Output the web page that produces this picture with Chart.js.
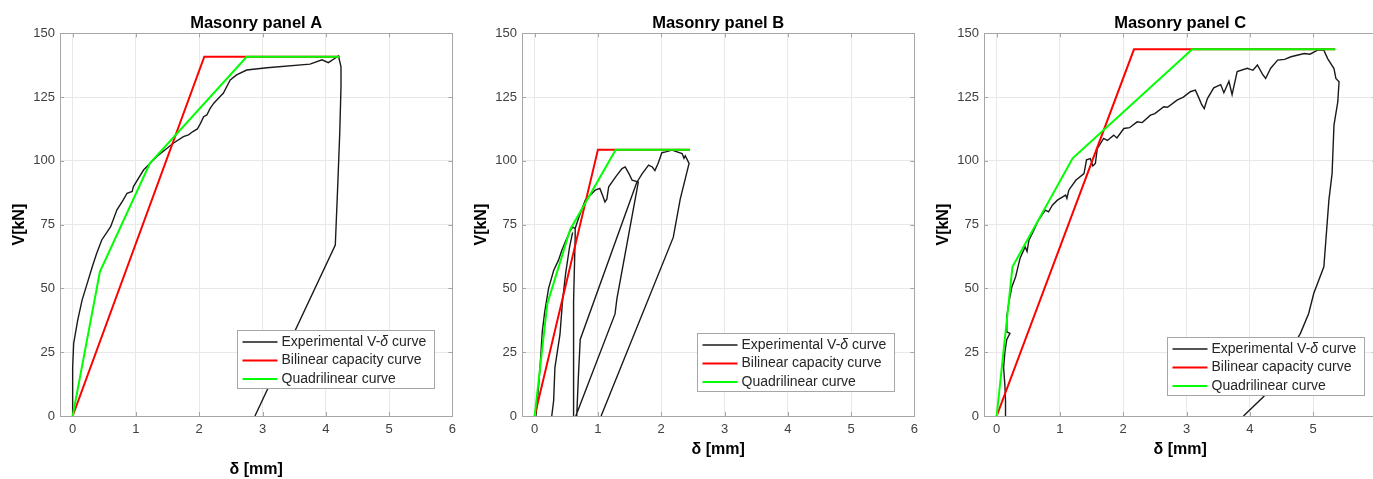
<!DOCTYPE html>
<html>
<head>
<meta charset="utf-8">
<title>Masonry panels V-δ</title>
<script src="https://cdn.jsdelivr.net/npm/chart.js@4.4.1/dist/chart.umd.min.js"></script>
<style>
  html, body { margin: 0; padding: 0; background: #fff; overflow: hidden; }
  #wrap { position: relative; width: 1373px; height: 479px; overflow: hidden; }
  canvas { position: absolute; top: 0; }
</style>
</head>
<body>
<div id="wrap">
  <canvas id="panelA" width="462" height="479" style="left:0px"></canvas>
  <canvas id="panelB" width="462" height="479" style="left:462px"></canvas>
  <canvas id="panelC" width="462" height="479" style="left:924px"></canvas>
</div>
<script>
// axis ticks shared by all three panels
const xTicks = [0, 1, 2, 3, 4, 5, 6];
const yTicks = [0, 25, 50, 75, 100, 125, 150];

const seriesNames = ['Experimental V-δ curve', 'Bilinear capacity curve', 'Quadrilinear curve'];
const panelTitles = ['Masonry panel A', 'Masonry panel B', 'Masonry panel C'];

// ---- Panel A: experimental monotonic curve (delta [mm], V [kN])
const dispA = [0.0, 0.0, 0.0, 0.016, 0.08, 0.15, 0.23, 0.31, 0.38, 0.46, 0.6, 0.7, 0.8, 0.86, 0.94, 0.96,
  1.12, 1.33, 1.59, 1.75, 1.83, 1.9, 1.97, 2.02, 2.07, 2.12, 2.17, 2.23, 2.33, 2.38, 2.49, 2.59, 2.75,
  3.07, 3.75, 3.94, 4.04, 4.17, 4.2, 4.24, 4.24, 4.22, 4.19, 4.15, 2.88];
const loadA = [0, 10, 19, 28.5, 37.6, 45.5, 52, 58.5, 63.8, 69, 74.2, 80.8, 84.7, 87.3, 88, 89.9,
  96.4, 101.7, 106.9, 109.5, 110.2, 111.5, 112.5, 114.7, 117.3, 118, 120.5, 122.6, 125.2, 126.5, 131.7, 133.7, 135.6,
  136.5, 137.9, 139.6, 138.5, 140.6, 141.1, 136.9, 129.1, 110.8, 91.2, 67, 0];
const bilDispA = [0, 2.08, 4.22];
const bilLoadA = [0, 140.8, 140.8];
const quadDispA = [0, 0.43, 1.22, 2.75, 4.22];
const quadLoadA = [0, 56.5, 99, 140.8, 140.8];

// ---- Panel B: cyclic test, reload/unload branches separated by null
const dispB = [0.02, 0.05, 0.085, 0.12, 0.16, 0.2, 0.22, 0.3, 0.375, 0.43, 0.48, 0.56, 0.6, 0.64,
  0.7, 0.8, 0.955, 1.03, 1.08, 1.11, 1.14, 1.17, 1.28, 1.38, 1.43, 1.49, 1.54, 1.62, 1.7, 1.8, 1.86,
  1.9, 1.95, 2.01, 2.07, 2.17, 2.33, 2.36, 2.38, 2.42, 2.44, 2.3, 2.19, 1.05,
  null,
  0.27, 0.3, 0.32, 0.4, 0.44, 0.49, 0.55, 0.6,
  null,
  0.61, 0.61, 0.62, 0.63, 0.64, 0.64,
  null,
  0.665, 0.69, 0.72, 1.62,
  null,
  0.65, 1.27, 1.3, 1.64];
const loadB = [0, 8, 19, 33, 41, 47, 50, 57, 61, 65, 68, 72.5, 74, 73.5,
  78, 84.6, 88.5, 89.2, 86, 83.9, 85, 89.8, 93.7, 97, 97.6, 95, 92.4, 91.8, 95, 98.3, 97.6,
  96.2, 99, 103.2, 103.5, 104.2, 102.9, 101, 102, 100, 99, 85, 70, 0,
  null,
  0, 6, 19, 32, 45, 56, 66, 72,
  null,
  0, 20, 45, 60, 70, 73.5,
  null,
  0, 15, 30, 92,
  null,
  0, 40, 46, 92];
const bilDispB = [0, 1.0, 2.45];
const bilLoadB = [0, 104.4, 104.4];
const quadDispB = [0, 0.2, 0.56, 1.28, 2.45];
const quadLoadB = [0, 44, 73, 104.4, 104.4];

// ---- Panel C: experimental monotonic curve
const dispC = [0.14, 0.14, 0.13, 0.11, 0.13, 0.16, 0.21, 0.16, 0.16, 0.19, 0.24, 0.3, 0.35, 0.37, 0.45, 0.48,
  0.51, 0.59, 0.66, 0.77, 0.82, 0.88, 0.96, 1.09, 1.11, 1.14, 1.25, 1.38, 1.42, 1.48, 1.52, 1.56, 1.59,
  1.69, 1.75, 1.85, 1.9, 2.01, 2.1, 2.22, 2.3, 2.43, 2.5, 2.64, 2.7, 2.85, 2.95, 3.06, 3.14, 3.2, 3.24,
  3.28, 3.33, 3.43, 3.54, 3.59, 3.67, 3.72, 3.8, 3.96, 4.05, 4.12, 4.2, 4.25, 4.33, 4.44, 4.55, 4.65,
  4.86, 4.95, 5.07, 5.17, 5.23, 5.33, 5.36, 5.41, 5.39, 5.33, 5.3, 5.25, 5.17, 5.01, 4.93, 4.8, 4.72,
  4.22, 3.9];
const loadC = [0, 6, 12, 19, 25, 30, 32.4, 33, 39, 44, 50.6, 54.6, 59.8, 61.8, 66.3, 64.5,
  68.9, 72.9, 76.8, 80.7, 80, 82.6, 84.6, 86.6, 85.3, 88.5, 92.4, 95, 100.4, 100.9, 98, 99, 104.8,
  108.8, 108, 110.1, 109, 112.7, 113, 115.3, 115, 117.9, 118.5, 121.2, 121, 123.8, 125, 127.1, 127.7, 124.4, 122,
  120.5, 124.4, 128.6, 129.9, 126.7, 131.2, 126, 135, 136.3, 135.5, 137.6, 134, 132.3, 136.3, 139.5, 139.8, 140.8,
  142.1, 141.8, 143.4, 143.4, 140.1, 136.2, 132.3, 131, 123.1, 114, 95, 84.7, 58.5, 48, 40.2, 32.4, 29,
  7.6, 0];
const bilDispC = [0, 2.17, 5.35];
const bilLoadC = [0, 143.7, 143.7];
const quadDispC = [0, 0.25, 1.2, 3.09, 5.35];
const quadLoadC = [0, 58.5, 101, 143.7, 143.7];

Chart.defaults.font.family = "'Liberation Sans', Arial, Helvetica, sans-serif";
Chart.defaults.color = '#404040';

const BOX_COLOR = '#a6a6a6';
const GRID_COLOR = '#e8e8e8';

// box around the plot area with inward tick marks on every side
const axesBox = {
  id: 'axesBox',
  afterDatasetsDraw(chart) {
    const { ctx, chartArea: a, scales: { x, y } } = chart;
    const len = 4;
    ctx.save();
    ctx.strokeStyle = BOX_COLOR;
    ctx.lineWidth = 1;
    ctx.beginPath();
    x.ticks.forEach(t => {
      const px = Math.round(x.getPixelForValue(t.value)) + 0.5;
      ctx.moveTo(px, a.bottom); ctx.lineTo(px, a.bottom - len);
      ctx.moveTo(px, a.top); ctx.lineTo(px, a.top + len);
    });
    y.ticks.forEach(t => {
      const py = Math.round(y.getPixelForValue(t.value)) + 0.5;
      ctx.moveTo(a.left, py); ctx.lineTo(a.left + len, py);
      ctx.moveTo(a.right, py); ctx.lineTo(a.right - len, py);
    });
    ctx.stroke();
    ctx.strokeRect(Math.round(a.left) + 0.5, Math.round(a.top) + 0.5,
      Math.round(a.right - a.left), Math.round(a.bottom - a.top));
    ctx.restore();
  }
};

// legend box inside the plot area, lower right; δ is set in italic
const boxLegend = {
  id: 'boxLegend',
  afterDraw(chart, args, opts) {
    const { ctx, chartArea: a } = chart;
    const w = 197, h = 58;
    const left = Math.round(a.right - opts.right - w) + 0.5;
    const top = Math.round(a.bottom - opts.bottom - h) + 0.5;
    ctx.save();
    ctx.fillStyle = '#fff';
    ctx.fillRect(left, top, w, h);
    ctx.strokeStyle = BOX_COLOR;
    ctx.lineWidth = 1;
    ctx.strokeRect(left, top, w, h);
    chart.data.datasets.forEach((ds, i) => {
      const yy = top + 11.5 + i * 18.5;
      ctx.strokeStyle = ds.borderColor;
      ctx.lineWidth = ds.borderWidth;
      ctx.beginPath();
      ctx.moveTo(left + 5, yy);
      ctx.lineTo(left + 40, yy);
      ctx.stroke();
      let tx = left + 44;
      ctx.fillStyle = '#262626';
      ctx.textBaseline = 'middle';
      ds.label.split(/(δ)/).forEach(part => {
        if (!part) return;
        ctx.font = (part === 'δ' ? 'italic ' : '') + "14px 'Liberation Sans', Arial, sans-serif";
        ctx.fillText(part, tx, yy);
        tx += ctx.measureText(part).width;
      });
    });
    ctx.restore();
  }
};

function pts(xs, ys) {
  return xs.map((x, i) => ({ x: x, y: ys[i] }));
}

function buildPanel(id, title, exp, bil, quad, opt) {
  new Chart(document.getElementById(id), {
    type: 'line',
    data: {
      datasets: [
        { label: seriesNames[0], data: exp, borderColor: '#1a1a1a', borderWidth: 1.4, order: 2 },
        { label: seriesNames[1], data: bil, borderColor: '#ff0000', borderWidth: 2, order: 1 },
        { label: seriesNames[2], data: quad, borderColor: '#00ff00', borderWidth: 2, order: 0 }
      ]
    },
    options: {
      responsive: false,
      devicePixelRatio: 1,
      animation: false,
      events: [],
      spanGaps: false,
      elements: { point: { radius: 0 }, line: { tension: 0, fill: false } },
      layout: { padding: { left: 0, right: 0, top: 0, bottom: 0 } },
      plugins: {
        legend: { display: false },
        tooltip: { enabled: false },
        title: {
          display: true,
          text: title,
          fullSize: false,
          color: '#000',
          font: { size: 16.5, weight: 'bold' },
          padding: { top: 13.5, bottom: 0 }
        },
        boxLegend: { right: opt.legendRight, bottom: opt.legendBottom }
      },
      scales: {
        x: {
          type: 'linear',
          min: -0.2,
          max: 6,
          afterBuildTicks: s => { s.ticks = xTicks.map(v => ({ value: v })); },
          afterFit: s => { s.height = 63; },
          ticks: { font: { size: 13 }, padding: 6, maxRotation: 0, autoSkip: false },
          grid: { color: GRID_COLOR, drawTicks: false },
          border: { display: false },
          title: {
            display: true,
            text: 'δ [mm]',
            color: '#000',
            font: { size: 16, weight: 'bold' },
            padding: { top: 0, bottom: opt.xTitleBottom }
          }
        },
        y: {
          type: 'linear',
          min: 0,
          max: 150,
          afterBuildTicks: s => { s.ticks = yTicks.map(v => ({ value: v })); },
          afterFit: s => { s.width = 60; },
          ticks: { font: { size: 13 }, padding: 5 },
          grid: { color: GRID_COLOR, drawTicks: false },
          border: { display: false },
          title: {
            display: true,
            text: 'V[kN]',
            color: '#000',
            font: { size: 16, weight: 'bold' },
            padding: { top: 10.4, bottom: 0 }
          }
        }
      }
    },
    plugins: [axesBox, boxLegend]
  });
}

buildPanel('panelA', panelTitles[0], pts(dispA, loadA), pts(bilDispA, bilLoadA), pts(quadDispA, quadLoadA),
  { legendRight: 18, legendBottom: 28, xTitleBottom: 0 });
buildPanel('panelB', panelTitles[1], pts(dispB, loadB), pts(bilDispB, bilLoadB), pts(quadDispB, quadLoadB),
  { legendRight: 20, legendBottom: 25, xTitleBottom: 19.4 });
buildPanel('panelC', panelTitles[2], pts(dispC, loadC), pts(bilDispC, bilLoadC), pts(quadDispC, quadLoadC),
  { legendRight: 12, legendBottom: 21, xTitleBottom: 19.4 });
</script>
</body>
</html>
